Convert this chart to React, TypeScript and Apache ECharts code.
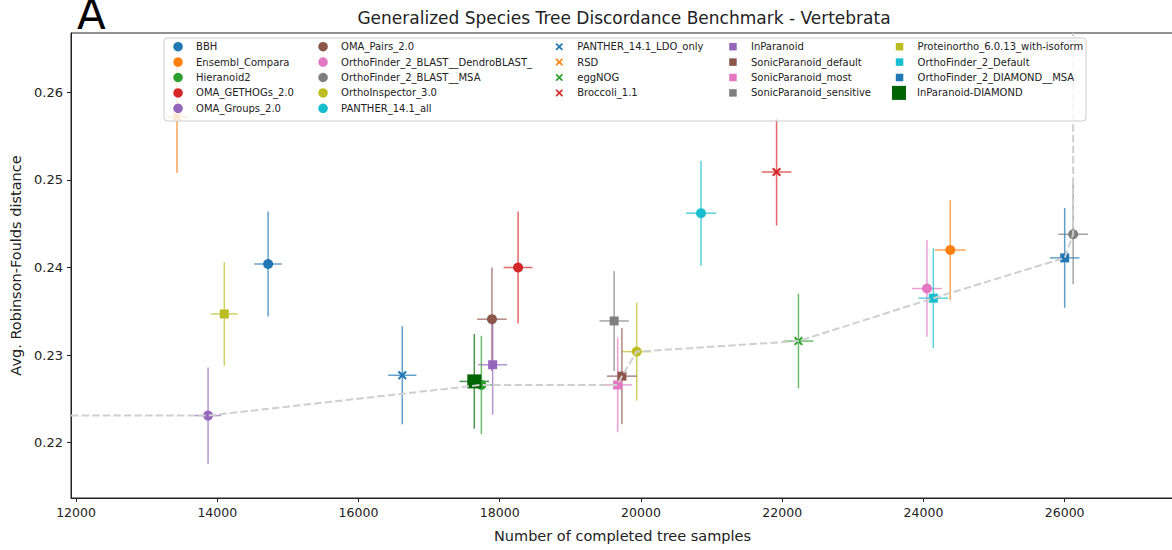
import React, { useEffect, useRef } from "react";
import * as echarts from "echarts";

// Orthology methods benchmarked on the vertebrata species tree discordance test
const METHODS = [
  "BBH",
  "Ensembl_Compara",
  "Hieranoid2",
  "OMA_GETHOGs_2.0",
  "OMA_Groups_2.0",
  "OMA_Pairs_2.0",
  "OrthoFinder_2_BLAST__DendroBLAST_",
  "OrthoFinder_2_BLAST__MSA",
  "OrthoInspector_3.0",
  "PANTHER_14.1_all",
  "PANTHER_14.1_LDO_only",
  "RSD",
  "eggNOG",
  "Broccoli_1.1",
  "InParanoid",
  "SonicParanoid_default",
  "SonicParanoid_most",
  "SonicParanoid_sensitive",
  "Proteinortho_6.0.13_with-isoform",
  "OrthoFinder_2_Default",
  "OrthoFinder_2_DIAMOND__MSA",
  "InParanoid-DIAMOND",
];

// Number of completed tree samples (x) and its error
const TREE_SAMPLES = [
  14720, 24380, 17740, 18260, 13870, 17890, 24050, 26120, 19940, 20850, 16620,
  13430, 22230, 21920, 17900, 19730, 19670, 19620, 14100, 24140, 26000, 17640,
];
const SAMPLES_ERR = [
  195, 220, 150, 205, 185, 210, 212, 212, 205, 217, 200,
  165, 212, 210, 205, 212, 205, 208, 188, 210, 208, 208,
];

// Average Robinson-Foulds distance (y) and its error
const RF_DISTANCE = [
  0.2404, 0.242, 0.2266, 0.24, 0.2231, 0.2341, 0.2376, 0.2438, 0.2304, 0.2462, 0.2277,
  0.2572, 0.2316, 0.2509, 0.2289, 0.2276, 0.2266, 0.2339, 0.2347, 0.2365, 0.2411, 0.227,
];
const RF_ERR = [
  0.006, 0.0057, 0.0056, 0.0064, 0.0055, 0.0059, 0.0055, 0.0057, 0.0056, 0.006, 0.0056,
  0.0064, 0.0054, 0.0061, 0.0057, 0.0055, 0.0054, 0.0057, 0.0059, 0.0057, 0.0057, 0.0054,
];

const X_TICKS = [12000, 14000, 16000, 18000, 20000, 22000, 24000, 26000];
const Y_TICKS = [0.22, 0.23, 0.24, 0.25, 0.26];
const X_RANGE = [11929, 27548];
const Y_RANGE = [0.21369, 0.26677];

// Marker styling per method
const COLORS = [
  "#1f77b4", "#ff7f0e", "#2ca02c", "#d62728", "#9467bd", "#8c564b", "#e377c2",
  "#7f7f7f", "#bcbd22", "#17becf", "#1f77b4", "#ff7f0e", "#2ca02c", "#d62728",
  "#9467bd", "#8c564b", "#e377c2", "#7f7f7f", "#bcbd22", "#17becf", "#1f77b4",
  "#006400",
];
const SHAPES = [
  "circle", "circle", "circle", "circle", "circle", "circle", "circle", "circle",
  "circle", "circle", "x", "x", "x", "x", "square", "square", "square", "square",
  "square", "square", "square", "bigsquare",
];

const X_PATH =
  "path://M1.6,0 L5,3.4 L8.4,0 L10,1.6 L6.6,5 L10,8.4 L8.4,10 L5,6.6 L1.6,10 L0,8.4 L3.4,5 L0,1.6 Z";
const SQUARE_PATH = "path://M0,0 H10 V10 H0 Z";

const SYMBOL: Record<string, string> = {
  circle: "circle",
  x: X_PATH,
  square: SQUARE_PATH,
  bigsquare: SQUARE_PATH,
};
const SYMBOL_SIZE: Record<string, number> = { circle: 10, x: 9, square: 9, bigsquare: 14 };

const FONT = "'DejaVu Sans', 'Liberation Sans', sans-serif";
const INK = "#222";

// Pareto front: most trees with lowest distance, extended to the plot edges
function paretoFront(): number[][] {
  const order = METHODS.map((_, i) => i).sort((a, b) => TREE_SAMPLES[b] - TREE_SAMPLES[a]);
  const front: number[][] = [];
  let best = Infinity;
  for (const i of order) {
    if (RF_DISTANCE[i] <= best) {
      best = RF_DISTANCE[i];
      front.push([TREE_SAMPLES[i], RF_DISTANCE[i]]);
    }
  }
  front.reverse();
  const first = front[0];
  const last = front[front.length - 1];
  return [[X_RANGE[0], first[1]], ...front, [last[0], Y_RANGE[1]]];
}

function legendColumn(idx: number[], left: number, top: number, iconSize: number) {
  return {
    orient: "vertical",
    left,
    top,
    padding: 0,
    itemGap: 3.4,
    itemWidth: 26,
    itemHeight: iconSize,
    selectedMode: false,
    z: 10,
    textStyle: { fontFamily: FONT, fontSize: 10, lineHeight: 12, color: INK },
    data: idx.map((i) => ({ name: METHODS[i], icon: SYMBOL[SHAPES[i]] })),
  };
}

export default function App() {
  const ref = useRef<HTMLDivElement>(null);

  useEffect(() => {
    if (!ref.current) return;
    const chart = echarts.init(ref.current, undefined, { renderer: "svg" });

    const errorData = METHODS.map((_, i) => [
      TREE_SAMPLES[i],
      RF_DISTANCE[i],
      SAMPLES_ERR[i],
      RF_ERR[i],
      i,
    ]);

    const scatterSeries = METHODS.map((name, i) => ({
      name,
      type: "scatter",
      z: 2,
      silent: true,
      data: [[TREE_SAMPLES[i], RF_DISTANCE[i]]],
      symbol: SYMBOL[SHAPES[i]],
      symbolSize: SYMBOL_SIZE[SHAPES[i]],
      symbolKeepAspect: true,
      itemStyle: { color: COLORS[i], opacity: 1 },
    }));

    const option: any = {
      animation: false,
      textStyle: { fontFamily: FONT },
      grid: {
        left: 71,
        right: -2,
        top: 33,
        bottom: 52,
        show: true,
        borderColor: INK,
        borderWidth: 1,
        containLabel: false,
        outerBoundsMode: "none",
      },
      xAxis: {
        type: "value",
        min: X_RANGE[0],
        max: X_RANGE[1],
        splitLine: { show: false },
        axisLine: { show: true, onZero: false, lineStyle: { color: INK, width: 1 } },
        axisTick: { show: true, length: 4, customValues: X_TICKS, lineStyle: { color: INK } },
        axisLabel: {
          customValues: X_TICKS,
          formatter: (v: number) => String(v),
          fontFamily: FONT,
          fontSize: 12.5,
          color: INK,
          margin: 8,
        },
        name: "Number of completed tree samples",
        nameLocation: "middle",
        nameGap: 30,
        nameTextStyle: { fontFamily: FONT, fontSize: 14.5, color: INK },
      },
      yAxis: {
        type: "value",
        min: Y_RANGE[0],
        max: Y_RANGE[1],
        splitLine: { show: false },
        axisLine: { show: true, onZero: false, lineStyle: { color: INK, width: 1 } },
        axisTick: { show: true, length: 4, customValues: Y_TICKS, lineStyle: { color: INK } },
        axisLabel: {
          customValues: Y_TICKS,
          formatter: (v: number) => v.toFixed(2),
          fontFamily: FONT,
          fontSize: 13,
          color: INK,
          margin: 8,
        },
        name: "Avg. Robinson-Foulds distance",
        nameLocation: "middle",
        nameGap: 47,
        nameTextStyle: { fontFamily: FONT, fontSize: 14.5, color: INK },
      },
      legend: [
        legendColumn([0, 1, 2, 3, 4], 173.3, 40.7, 9.5),
        legendColumn([5, 6, 7, 8, 9], 318.3, 40.7, 9.5),
        legendColumn([10, 11, 12, 13], 555.5, 40.7, 7.5),
        legendColumn([14, 15, 16, 17], 729.2, 40.7, 7.5),
        legendColumn([18, 19, 20], 895.8, 40.7, 7.5),
        legendColumn([21], 892, 85.9, 14),
      ],
      graphic: [
        {
          type: "rect",
          z: 5,
          silent: true,
          shape: { x: 164, y: 38, width: 922, height: 83, r: 3 },
          style: { fill: "rgba(255,255,255,0.8)", stroke: "#cccccc", lineWidth: 1 },
        },
        {
          type: "text",
          z: 5,
          x: 624,
          y: 18,
          style: {
            text: "Generalized Species Tree Discordance Benchmark - Vertebrata",
            fontFamily: FONT,
            fontSize: 17,
            fill: INK,
            align: "center",
            verticalAlign: "middle",
          },
        },
        {
          type: "text",
          z: 5,
          x: 77,
          y: 14,
          style: {
            text: "A",
            fontFamily: FONT,
            fontSize: 42,
            fill: "#000",
            align: "left",
            verticalAlign: "middle",
          },
        },
      ],
      series: [
        {
          name: "error bars",
          type: "custom",
          z: 1,
          silent: true,
          data: errorData,
          encode: { x: 0, y: 1 },
          renderItem: (_params: any, api: any) => {
            const x = api.value(0);
            const y = api.value(1);
            const xe = api.value(2);
            const ye = api.value(3);
            const k = api.value(4);
            const top = api.coord([x, y + ye]);
            const bot = api.coord([x, y - ye]);
            const l = api.coord([x - xe, y]);
            const r = api.coord([x + xe, y]);
            const style = { stroke: COLORS[k], lineWidth: 1.5, opacity: 0.7 };
            return {
              type: "group",
              children: [
                { type: "line", shape: { x1: top[0], y1: top[1], x2: bot[0], y2: bot[1] }, style },
                { type: "line", shape: { x1: l[0], y1: l[1], x2: r[0], y2: r[1] }, style },
              ],
            };
          },
        },
        ...scatterSeries,
        {
          name: "front",
          type: "line",
          z: 3,
          silent: true,
          data: paretoFront(),
          showSymbol: false,
          symbol: "none",
          lineStyle: { color: "#cfcfcf", width: 2, type: [7.4, 3.2] },
        },
      ],
    };

    chart.setOption(option);
    return () => chart.dispose();
  }, []);

  return (
    <div
      ref={ref}
      style={{ position: "fixed", left: 0, top: 0, width: 1172, height: 550, background: "#fff" }}
    />
  );
}
